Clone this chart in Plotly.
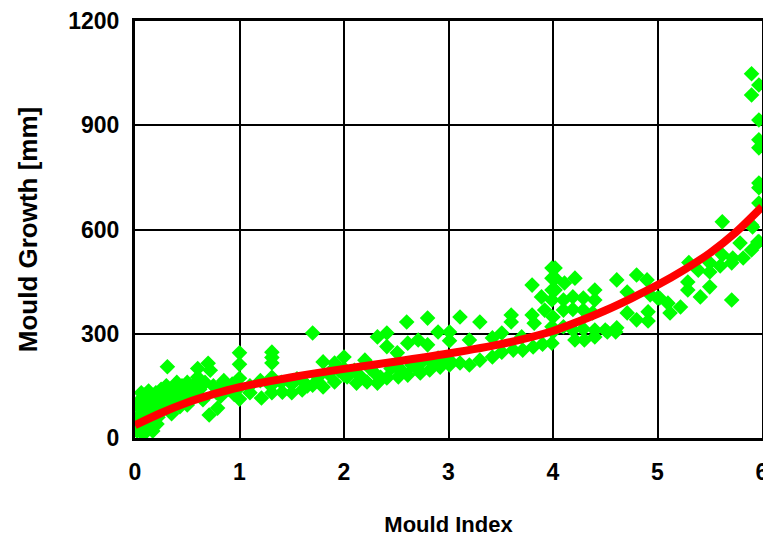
import plotly.graph_objects as go

# Scatter observations (Mould Index, Mould Growth [mm])
obs_x = [
    0.02, 0.03, 0.04, 0.05, 0.05, 0.06, 0.07, 0.08, 0.08, 0.10, 0.10, 0.11, 0.12, 0.13, 0.14, 0.15, 0.16, 0.17, 0.18, 0.20,
    0.20, 0.21, 0.22, 0.23, 0.25, 0.25, 0.28, 0.31, 0.30, 0.32, 0.33, 0.35, 0.37, 0.38, 0.40, 0.42, 0.43, 0.45, 0.47, 0.48,
    0.50, 0.50, 0.52, 0.55, 0.57, 0.60, 0.60, 0.62, 0.65, 0.67, 0.70, 0.71, 0.72, 0.75, 0.78, 0.79, 0.80, 0.82, 0.85, 0.90,
    0.93, 0.95, 0.98, 1.00, 1.00, 1.00, 1.00, 1.10, 1.10, 1.21, 1.20, 1.31, 1.31, 1.31, 1.31, 1.31, 1.30, 1.41, 1.40, 1.50,
    1.50, 1.55, 1.60, 1.60, 1.65, 1.70, 1.70, 1.75, 1.80, 1.80, 1.85, 1.91, 1.91, 1.90, 1.95, 2.00, 2.00, 2.00, 2.03, 2.10,
    2.12, 2.15, 2.20, 2.22, 2.25, 2.30, 2.32, 2.32, 2.35, 2.41, 2.41, 2.41, 2.45, 2.50, 2.51, 2.52, 2.55, 2.60, 2.61, 2.61,
    2.65, 2.70, 2.71, 2.73, 2.75, 2.80, 2.80, 2.82, 2.85, 2.90, 2.90, 2.92, 2.95, 3.01, 3.01, 3.01, 3.01, 3.11, 3.11, 3.20,
    3.20, 3.30, 3.30, 3.42, 3.42, 3.51, 3.51, 3.60, 3.60, 3.62, 3.70, 3.71, 3.80, 3.80, 3.81, 3.82, 3.89, 3.90, 3.92, 3.99,
    3.99, 3.99, 3.99, 3.99, 3.99, 4.00, 4.00, 4.02, 4.02, 4.02, 4.10, 4.10, 4.10, 4.11, 4.19, 4.19, 4.19, 4.21, 4.21, 4.29,
    4.29, 4.29, 4.30, 4.38, 4.40, 4.40, 4.40, 4.40, 4.50, 4.52, 4.60, 4.61, 4.61, 4.71, 4.71, 4.80, 4.80, 4.90, 4.91, 4.91,
    4.93, 5.00, 5.02, 5.10, 5.12, 5.22, 5.29, 5.29, 5.30, 5.39, 5.41, 5.50, 5.50, 5.50, 5.60, 5.62, 5.62, 5.71, 5.72, 5.71,
    5.79, 5.82, 5.90, 5.90, 5.91, 5.90, 5.96, 5.90, 5.97, 5.97, 5.97, 5.97, 5.97, 5.97, 5.97, 5.97,
]
obs_y = [
    20, 60, 90, 40, 110, 130, 75, 10, 50, 100, 125, 30, 70, 135, 90, 55, 115, 20, 80, 130,
    100, 40, 60, 120, 85, 140, 110, 205, 150, 95, 130, 70, 145, 110, 160, 125, 90, 150, 110, 135,
    160, 95, 140, 120, 155, 200, 175, 140, 110, 160, 215, 66, 195, 150, 130, 86, 145, 120, 165, 140,
    155, 125, 140, 245, 212, 172, 112, 130, 150, 115, 165, 247, 232, 216, 175, 130, 150, 132, 160, 130,
    155, 170, 138, 165, 150, 302, 152, 175, 219, 147, 185, 216, 161, 200, 195, 233, 181, 200, 176, 195,
    158, 180, 224, 161, 200, 185, 291, 158, 175, 302, 263, 173, 200, 205, 245, 176, 195, 334, 273, 181,
    210, 200, 282, 187, 220, 345, 268, 196, 215, 305, 230, 204, 220, 305, 280, 224, 210, 348, 216, 282,
    210, 334, 224, 288, 233, 302, 247, 354, 334, 253, 291, 253, 440, 354, 262, 330, 406, 270, 368, 489,
    460, 426, 397, 273, 320, 348, 305, 489, 460, 426, 397, 368, 320, 446, 406, 370, 311, 460, 282, 403,
    368, 314, 282, 360, 426, 397, 311, 291, 311, 305, 305, 455, 317, 420, 360, 469, 340, 455, 363, 337,
    412, 403, 403, 388, 360, 377, 449, 426, 505, 483, 406, 504, 435, 478, 495, 622, 527, 504, 518, 397,
    561, 518, 541, 1048, 607, 987, 564, 613, 1016, 915, 858, 835, 734, 720, 676, 565,
]

# Fitted trend curve
fit_x = [0, 0.25, 0.5, 0.75, 1, 1.5, 2, 2.5, 3, 3.5, 4, 4.25, 4.5, 4.75, 5, 5.25, 5.5, 5.75, 6]
fit_y = [37, 72, 102, 126, 146, 175, 199, 220, 243, 270, 308, 336, 367, 402, 440, 483, 532, 592, 665]

x_ticks = [0, 1, 2, 3, 4, 5, 6]
y_ticks = [0, 300, 600, 900, 1200]

fig = go.Figure()
fig.add_trace(go.Scatter(
    x=obs_x, y=obs_y, mode="markers",
    marker=dict(symbol="diamond", size=12, color="#00FF00", line=dict(width=0)),
    showlegend=False,
))
fig.add_trace(go.Scatter(
    x=fit_x, y=fit_y, mode="lines",
    line=dict(color="#FF0000", width=8, shape="spline", smoothing=0.8),
    showlegend=False,
))

font_family = "Liberation Sans, Arial, sans-serif"
# page body has an 8px default margin, so the figure is sized to fit inside the window
fig.update_layout(
    width=763, height=529,
    margin=dict(l=127, r=9, t=13, b=99, autoexpand=False),
    paper_bgcolor="white", plot_bgcolor="white",
    font=dict(family=font_family, color="black"),
    xaxis=dict(
        range=[0, 6], tickvals=x_ticks, ticktext=[str(v) for v in x_ticks],
        showgrid=True, gridcolor="black", gridwidth=2,
        showline=True, linecolor="black", linewidth=3, mirror=True,
        ticks="outside", ticklen=11, tickcolor="rgba(0,0,0,0)",
        tickfont=dict(size=23, family=font_family, color="black", weight="bold"),
        title=dict(text="<b>Mould Index</b>", font=dict(size=22, family=font_family), standoff=36),
        zeroline=False, automargin=False,
    ),
    yaxis=dict(
        range=[0, 1200], tickvals=y_ticks, ticktext=[str(v) for v in y_ticks],
        showgrid=True, gridcolor="black", gridwidth=2,
        showline=True, linecolor="black", linewidth=3, mirror=True,
        ticks="outside", ticklen=8, tickcolor="rgba(0,0,0,0)",
        tickfont=dict(size=23, family=font_family, color="black", weight="bold"),
        title=dict(text="<b>Mould Growth [mm]</b>", font=dict(size=26, family=font_family), standoff=24),
        zeroline=False, automargin=False,
    ),
)

fig.write_html("out.html")
